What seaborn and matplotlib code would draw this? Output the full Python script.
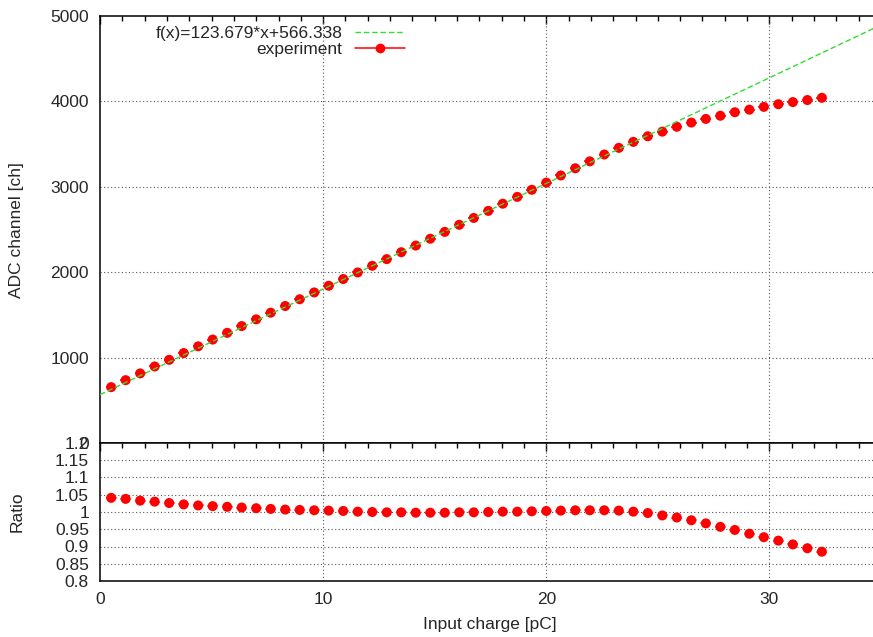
import matplotlib
matplotlib.use("Agg")
import matplotlib.pyplot as plt
import seaborn as sns
import pandas as pd
from matplotlib.lines import Line2D
from matplotlib.ticker import MultipleLocator, FixedLocator

# ---------------- data ----------------
charge_pC = [0.50, 1.15, 1.80, 2.45, 3.10, 3.75, 4.40, 5.05, 5.70, 6.35,
             7.00, 7.65, 8.30, 8.95, 9.60, 10.25, 10.90, 11.55, 12.20, 12.85,
             13.50, 14.15, 14.80, 15.45, 16.10, 16.75, 17.40, 18.05, 18.70, 19.35,
             20.00, 20.65, 21.30, 21.95, 22.60, 23.25, 23.90, 24.55, 25.20, 25.85,
             26.50, 27.15, 27.80, 28.45, 29.10, 29.75, 30.40, 31.05, 31.70, 32.35]

adc_ch = [654, 736, 815, 896, 974, 1053, 1132, 1211, 1290, 1369,
          1448, 1526, 1604, 1683, 1763, 1841, 1920, 1997, 2075, 2153,
          2234, 2312, 2392, 2472, 2555, 2635, 2718, 2802, 2882, 2965,
          3049, 3133, 3217, 3298, 3378, 3456, 3526, 3592, 3646, 3703,
          3752, 3795, 3832, 3873, 3903, 3936, 3967, 3992, 4016, 4042]

ratio = [1.041, 1.038, 1.033, 1.030, 1.026, 1.022, 1.019, 1.017, 1.015, 1.013,
         1.011, 1.009, 1.007, 1.006, 1.005, 1.004, 1.003, 1.001, 1.000, 0.999,
         0.999, 0.998, 0.998, 0.998, 0.999, 0.999, 1.000, 1.001, 1.001, 1.002,
         1.003, 1.004, 1.005, 1.005, 1.005, 1.004, 1.001, 0.997, 0.990, 0.984,
         0.976, 0.967, 0.957, 0.948, 0.937, 0.927, 0.917, 0.906, 0.895, 0.885]

fit_slope = 123.679
fit_offset = 566.338
fit_range = [0, 35]
fit_label = "f(x)=123.679*x+566.338"
exp_label = "experiment"

top_yticks = [0, 1000, 2000, 3000, 4000, 5000]
bot_yticks = [0.8, 0.85, 0.9, 0.95, 1.0, 1.05, 1.1, 1.15, 1.2]
bot_yticklabels = ["0.8", "0.85", "0.9", "0.95", "1", "1.05", "1.1", "1.15", "1.2"]
xticks = [0, 10, 20, 30]

# ---------------- style ----------------
FS = 12.5
sns.set_theme(style="white")
plt.rcParams['font.family'] = ['Liberation Sans', 'DejaVu Sans']
plt.rcParams['font.size'] = FS

df = pd.DataFrame({"charge": charge_pC, "adc": adc_ch, "ratio": ratio})
fit_df = pd.DataFrame({"x": fit_range,
                       "y": [fit_slope * v + fit_offset for v in fit_range]})

W, H = 873, 637
fig = plt.figure(figsize=(W / 100, H / 100), dpi=100)
left_px, right_px = 100, 881
top_px, mid_px, bot_px = 16, 443, 581
ax1 = fig.add_axes([left_px / W, 1 - mid_px / H, (right_px - left_px) / W, (mid_px - top_px) / H])
ax2 = fig.add_axes([left_px / W, 1 - bot_px / H, (right_px - left_px) / W, (bot_px - mid_px) / H])

RED = "#ff0000"
GREEN = "#33dd33"
grid_kw = dict(color="#555555", linestyle=(0, (1, 2.2)), linewidth=0.8)

# top panel
ax1.errorbar(df["charge"], df["adc"], xerr=0.25, fmt="none", ecolor=RED,
             elinewidth=1.1, capsize=0, zorder=3)
sns.scatterplot(data=df, x="charge", y="adc", ax=ax1, color=RED, s=52,
                edgecolor="none", zorder=4, legend=False)
sns.lineplot(data=fit_df, x="x", y="y", ax=ax1, color=GREEN, linewidth=1.0,
             dashes=False, zorder=5, legend=False)
ax1.lines[-1].set_dashes([4, 2])

# bottom panel
ax2.errorbar(df["charge"], df["ratio"], xerr=0.25, fmt="none", ecolor="#ff6060",
             elinewidth=1.1, capsize=0, zorder=3)
sns.scatterplot(data=df, x="charge", y="ratio", ax=ax2, color=RED, s=52,
                edgecolor="none", zorder=4, legend=False)

for ax in (ax1, ax2):
    ax.set_xlim(0, 35)
    ax.xaxis.set_major_locator(FixedLocator(xticks))
    ax.xaxis.set_minor_locator(MultipleLocator(1))
    ax.tick_params(axis="both", which="both", direction="in", top=True,
                   right=True, color="black", labelsize=FS, pad=8)
    ax.tick_params(which="major", length=6, width=1.0)
    ax.tick_params(which="minor", length=3.5, width=1.0)
    for sp in ax.spines.values():
        sp.set_color("black")
        sp.set_linewidth(1.1)
    ax.set_xlabel("")
    ax.set_ylabel("")
    for xv in xticks[1:]:
        ax.axvline(xv, zorder=1, **grid_kw)

ax1.set_ylim(0, 5000)
ax1.set_yticks(top_yticks)
ax1.set_yticklabels([str(v) for v in top_yticks])
ax1.tick_params(axis="x", labelbottom=False)
for yv in top_yticks[1:-1]:
    ax1.axhline(yv, zorder=1, **grid_kw)

ax2.set_ylim(0.8, 1.2)
ax2.set_yticks(bot_yticks)
ax2.set_yticklabels(bot_yticklabels)
ax2.set_xticklabels([str(v) for v in xticks])
for yv in bot_yticks[1:-1]:
    ax2.axhline(yv, zorder=1, **grid_kw)

handles = [Line2D([], [], color=GREEN, linewidth=1.0, dashes=[4, 2]),
           Line2D([], [], color=RED, linewidth=1.1, marker="o", markersize=7,
                  markeredgecolor="none")]
ax1.legend(handles, [fit_label, exp_label], loc="upper right",
           bbox_to_anchor=((405 - left_px) / (right_px - left_px),
                           (mid_px - 26) / (mid_px - top_px)),
           frameon=False, markerfirst=False, handlelength=2.9,
           handletextpad=0.7, labelspacing=0.05, borderpad=0,
           borderaxespad=0, fontsize=FS)

fig.text(17 / W, 1 - 230 / H, "ADC channel [ch]", rotation=90, ha="center",
         va="center", fontsize=FS)
fig.text(17 / W, 1 - 512 / H, "Ratio", rotation=90, ha="center", va="center",
         fontsize=FS)
fig.text(490 / W, 1 - 625 / H, "Input charge [pC]", ha="center", va="center",
         fontsize=FS)

fig.savefig("out.png", dpi=100)
